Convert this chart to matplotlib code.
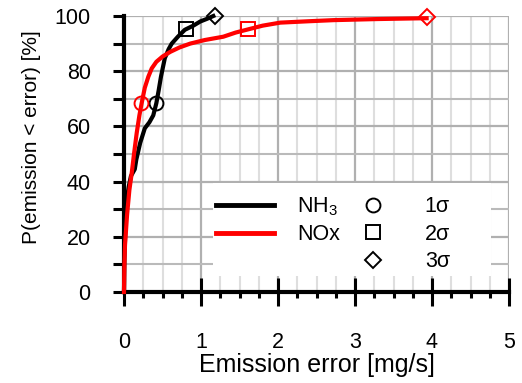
import matplotlib
matplotlib.use('Agg')
import matplotlib.pyplot as plt
from matplotlib.lines import Line2D
from matplotlib.patches import Rectangle
from matplotlib.ticker import MultipleLocator

plt.rcParams['font.family'] = ['Liberation Sans', 'DejaVu Sans']
plt.rcParams['mathtext.fontset'] = 'custom'
plt.rcParams['mathtext.rm'] = 'Liberation Sans'

# cumulative distribution of emission error
nh3_x = [0, 0.005, 0.02, 0.035, 0.06, 0.09, 0.12, 0.14, 0.16, 0.21, 0.27, 0.33, 0.38, 0.42,
         0.45, 0.48, 0.53, 0.58, 0.62, 0.7, 0.79, 0.9, 0.99, 1.08, 1.16]
nh3_y = [0, 12, 25, 33, 38, 42, 43.5, 44.5, 48, 54, 59.3, 61.5, 64, 68.4,
         73, 78, 84.7, 88, 90, 92.5, 95, 96.5, 98, 99, 100]
nox_x = [0, 0.005, 0.013, 0.04, 0.07, 0.1, 0.13, 0.165, 0.2, 0.23, 0.27, 0.316, 0.36, 0.42,
         0.5, 0.6, 0.72, 0.86, 1.05, 1.29, 1.45, 1.59, 1.8, 2.03, 2.4, 2.72, 3.3, 3.93]
nox_y = [0, 10, 17, 28, 37, 43, 50, 57.6, 64, 68.5, 74, 78, 81, 83.4,
         85.3, 87, 88.6, 90, 91.3, 92.5, 94, 95, 96.5, 97.6, 98.1, 98.5, 98.9, 99.2]

# 1, 2, 3 sigma points
sigma_labels = ['1σ', '2σ', '3σ']
sigma_markers = ['o', 's', 'D']
nh3_sig_x = [0.415, 0.8, 1.18]
nh3_sig_y = [68.5, 95.3, 100]
nox_sig_x = [0.22, 1.61, 3.93]
nox_sig_y = [68.5, 95.3, 99.6]

marker_size = {'o': 10, 's': 9.5, 'D': 8}

fig = plt.figure(figsize=(5.22, 3.83), dpi=100)
ax = fig.add_axes([124/522, 1-292/383, 385/522, 276/383])

ax.plot(nh3_x, nh3_y, color='black', lw=3, zorder=3, clip_on=False)
ax.plot(nox_x, nox_y, color='red', lw=3, zorder=4, clip_on=False)
for i in range(3):
    m = sigma_markers[i]
    ax.plot(nh3_sig_x[i], nh3_sig_y[i], marker=m, ms=marker_size[m], mfc='none',
            mec='black', mew=1.4, zorder=5, clip_on=False)
    ax.plot(nox_sig_x[i], nox_sig_y[i], marker=m, ms=marker_size[m], mfc='none',
            mec='red', mew=1.4, zorder=5, clip_on=False)

ax.set_xlim(0, 5)
ax.set_ylim(0, 100)
ax.xaxis.set_major_locator(MultipleLocator(1))
ax.xaxis.set_minor_locator(MultipleLocator(0.25))
ax.yaxis.set_major_locator(MultipleLocator(20))
ax.yaxis.set_minor_locator(MultipleLocator(10))
ax.grid(which='major', color='#b0b0b0', lw=1.6, zorder=0)
ax.grid(which='minor', axis='x', color='#dedede', lw=1.5, zorder=0)
ax.grid(which='minor', axis='y', color='#bababa', lw=1.5, zorder=0)
ax.set_axisbelow(True)

for s in ['top', 'right']:
    ax.spines[s].set_visible(False)
for s in ['left', 'bottom']:
    ax.spines[s].set_linewidth(3)
ax.tick_params(which='major', axis='x', direction='inout', length=20, width=2.2, labelsize=15.5, pad=19)
ax.tick_params(which='minor', axis='x', direction='out', length=4, width=2.2)
ax.tick_params(which='both', axis='y', direction='out', length=8, width=2.2, labelsize=15.5, pad=16)

ax.set_xlabel('Emission error [mg/s]', fontsize=18, labelpad=0)
ax.set_ylabel('P(emission < error) [%]', fontsize=15, labelpad=11)
ax.yaxis.set_label_coords(-0.215, 0.56)

# white background of the legend
ax.add_patch(Rectangle((89/385, 16/276), 278/385, 93/276, transform=ax.transAxes,
                       facecolor='white', edgecolor='none', zorder=5.5))

blank = Line2D([], [], color='none')
handles = [Line2D([], [], color='black', lw=3.5),
           Line2D([], [], color='red', lw=3.5),
           blank]
for m in sigma_markers:
    handles.append(Line2D([], [], ls='none', marker=m, ms=marker_size[m],
                          mfc='none', mec='black', mew=1.4))
labels = ['NH$_3$', 'NOx', ''] + sigma_labels
leg = ax.legend(handles, labels, ncol=2, loc='lower left', bbox_to_anchor=(89/385, 16/276),
                frameon=False, fontsize=15.5, handlelength=2.7, handletextpad=1.05,
                columnspacing=0.2, labelspacing=0.3, borderpad=0.15, borderaxespad=0)
leg.set_zorder(6)

fig.savefig('out.png', dpi=100)
